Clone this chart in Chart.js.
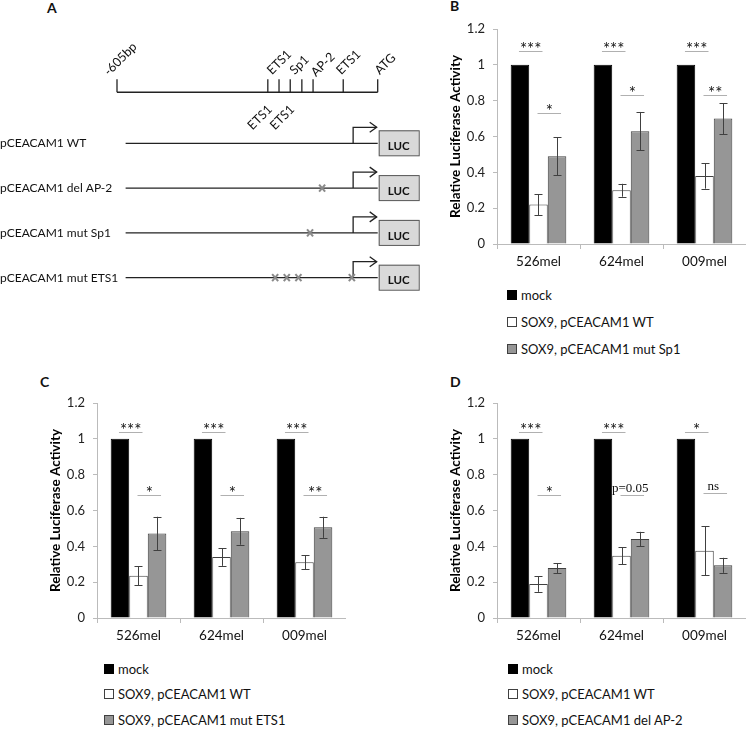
<!DOCTYPE html>
<html>
<head>
<meta charset="utf-8">
<script src="https://cdn.jsdelivr.net/npm/chart.js@4/dist/chart.umd.min.js"></script>
<style>
  body { margin: 0; width: 746px; height: 730px; position: relative; background: #fff; font-family: Lato, sans-serif; overflow: hidden; }
  canvas { position: absolute; }
  .lab { position: absolute; font-weight: bold; font-size: 14px; color: #111; line-height: 16px; }
  .legend { position: absolute; font-size: 13px; color: #111; }
  .legend .item { display: flex; align-items: center; }
  .legend .box { width: 10px; height: 10px; box-sizing: border-box; margin-right: 4px; }
</style>
</head>
<body>
<div class="lab" style="left:47px;top:0px">A</div>
<div class="lab" style="left:450px;top:-2px">B</div>
<div class="lab" style="left:40px;top:374px">C</div>
<div class="lab" style="left:450px;top:374px">D</div>

<canvas id="promoter" width="420" height="330" style="left:0;top:0"></canvas>
<canvas id="chartB" width="326" height="280" style="left:420px;top:0"></canvas>
<canvas id="chartC" width="326" height="280" style="left:20px;top:374px"></canvas>
<canvas id="chartD" width="326" height="280" style="left:420px;top:374px"></canvas>

<div class="legend" id="legendB" style="left:507px;top:281px"></div>
<div class="legend" id="legendC" style="left:104px;top:656px"></div>
<div class="legend" id="legendD" style="left:508px;top:656px"></div>

<script>
// --- panel A: promoter constructs (bp relative to ATG)
const promoterStart = -605;
const promoterEnd = 0;
const siteNames = ['ETS1', 'ETS1', 'ETS1', 'Sp1', 'AP-2', 'ETS1'];
const sitePos = [-255, -229, -203, -176, -150, -80];
const siteSide = ['below', 'above', 'below', 'above', 'above', 'above'];
const constructs = ['pCEACAM1 WT', 'pCEACAM1 del AP-2', 'pCEACAM1 mut Sp1', 'pCEACAM1 mut ETS1'];
const mutations = [[], [-129], [-157], [-238, -211, -184, -60]];
const constructStart = -585;
const tssPos = -57;

// --- panels B, C, D: luciferase assays
const cellLines = ['526mel', '624mel', '009mel'];
const mock = [1, 1, 1];

const wtB = [0.22, 0.30, 0.38];
const wtErrB = [0.058, 0.036, 0.071];
const sp1B = [0.49, 0.63, 0.70];
const sp1ErrB = [0.107, 0.107, 0.086];

const wtC = [0.236, 0.34, 0.311];
const wtErrC = [0.053, 0.049, 0.038];
const ets1C = [0.471, 0.484, 0.506];
const ets1ErrC = [0.094, 0.075, 0.059];

const wtD = [0.19, 0.348, 0.376];
const wtErrD = [0.044, 0.047, 0.137];
const ap2D = [0.279, 0.441, 0.294];
const ap2ErrD = [0.028, 0.04, 0.042];

// significance brackets: group, from dataset, to dataset, height, text
const sigB = [
    { g: 0, a: 0, b: 1, y: 1.075, t: '***' }, { g: 0, a: 1, b: 2, y: 0.73, t: '*' },
    { g: 1, a: 0, b: 1, y: 1.075, t: '***' }, { g: 1, a: 1, b: 2, y: 0.829, t: '*' },
    { g: 2, a: 0, b: 1, y: 1.075, t: '***' }, { g: 2, a: 1, b: 2, y: 0.829, t: '**' }
];
const sigC = [
    { g: 0, a: 0, b: 1, y: 1.036, t: '***' }, { g: 0, a: 1, b: 2, y: 0.688, t: '*' },
    { g: 1, a: 0, b: 1, y: 1.036, t: '***' }, { g: 1, a: 1, b: 2, y: 0.688, t: '*' },
    { g: 2, a: 0, b: 1, y: 1.036, t: '***' }, { g: 2, a: 1, b: 2, y: 0.688, t: '**' }
];
const sigD = [
    { g: 0, a: 0, b: 1, y: 1.036, t: '***' }, { g: 0, a: 1, b: 2, y: 0.688, t: '*' },
    { g: 1, a: 0, b: 1, y: 1.036, t: '***' }, { g: 1, a: 1, b: 2, y: 0.688, t: 'p=0.05', serif: true },
    { g: 2, a: 0, b: 1, y: 1.036, t: '*' }, { g: 2, a: 1, b: 2, y: 0.698, t: 'ns', serif: true }
];

Chart.defaults.font.family = 'Lato';
Chart.defaults.color = '#222';

// draws the schematic using the chart's x (bp) and y (row) scales
const promoterPlugin = {
    id: 'promoter',
    afterDraw(chart) {
        const { ctx, scales: { x, y } } = chart;
        // small horizontal nudges for the slanted site labels
        const nudge = [1, -7, 1, -7, 3, -2];
        ctx.save();
        ctx.strokeStyle = '#222';
        ctx.fillStyle = '#111';
        ctx.lineWidth = 1.3;
        const ly = y.getPixelForValue(-0.14);
        const top = ly - 13;
        const xs = x.getPixelForValue(promoterStart);
        const xe = x.getPixelForValue(promoterEnd);
        const seg = (a, b, c, d) => { ctx.beginPath(); ctx.moveTo(a, b); ctx.lineTo(c, d); ctx.stroke(); };
        const rot = (text, px, py, align) => {
            ctx.save();
            ctx.translate(px, py);
            ctx.rotate(-Math.PI / 4);
            ctx.textAlign = align;
            ctx.textBaseline = 'alphabetic';
            ctx.fillText(text, 0, 0);
            ctx.restore();
        };
        ctx.font = '12.5px Lato';
        seg(xs, ly, xe, ly);
        seg(xs, top, xs, ly);
        seg(xe, top, xe, ly);
        rot('-605bp', xs - 8, top - 3, 'left');
        rot('ATG', xe + 2, top - 4, 'left');
        sitePos.forEach((p, i) => {
            const px = x.getPixelForValue(p);
            seg(px, top, px, ly);
            if (siteSide[i] === 'above') rot(siteNames[i], px + nudge[i], top - (i === 4 ? 2 : 4), 'left');
            else rot(siteNames[i], px + 5, ly + 18, 'right');
        });

        constructs.forEach((name, i) => {
            const ry = y.getPixelForValue(i + 1);
            ctx.fillStyle = '#111';
            ctx.font = '12px Lato';
            ctx.textAlign = 'left';
            ctx.textBaseline = 'middle';
            ctx.fillText(name, 0, ry);
            ctx.lineWidth = 1.3;
            ctx.strokeStyle = '#222';
            seg(x.getPixelForValue(constructStart), ry, xe, ry);
            // transcription start arrow
            const tx = x.getPixelForValue(tssPos);
            ctx.beginPath();
            ctx.moveTo(tx, ry);
            ctx.lineTo(tx, ry - 16);
            ctx.lineTo(xe - 1, ry - 16);
            ctx.stroke();
            ctx.beginPath();
            ctx.moveTo(xe - 8, ry - 21);
            ctx.lineTo(xe - 1, ry - 16);
            ctx.lineTo(xe - 8, ry - 11);
            ctx.stroke();
            // luciferase box
            ctx.fillStyle = '#d9d9d9';
            ctx.strokeStyle = '#555';
            ctx.lineWidth = 1;
            ctx.fillRect(xe + 1, ry - 13, 40, 25);
            ctx.strokeRect(xe + 1.5, ry - 12.5, 40, 25);
            ctx.fillStyle = '#111';
            ctx.font = 'bold 11.5px Lato';
            ctx.textAlign = 'center';
            ctx.fillText('LUC', xe + 21, ry + 3);
            // mutated sites
            ctx.strokeStyle = '#8a8a8a';
            ctx.lineWidth = 2;
            mutations[i].forEach(m => {
                const mx = x.getPixelForValue(m);
                seg(mx - 3, ry - 3.5, mx + 3, ry + 3.5);
                seg(mx - 3, ry + 3.5, mx + 3, ry - 3.5);
            });
        });
        ctx.restore();
    }
};

new Chart(document.getElementById('promoter'), {
    type: 'scatter',
    data: { datasets: [] },
    plugins: [promoterPlugin],
    options: {
        responsive: false,
        animation: false,
        devicePixelRatio: 1,
        layout: { padding: { left: 117, right: 42.3, top: 53.7, bottom: 7.5 } },
        plugins: { legend: { display: false }, tooltip: { enabled: false } },
        scales: {
            x: { type: 'linear', min: promoterStart, max: promoterEnd, display: false },
            y: { type: 'linear', min: -1, max: 5, reverse: true, display: false }
        }
    }
});

const errorBars = {
    id: 'errorBars',
    afterDatasetsDraw(chart) {
        const { ctx, scales: { y } } = chart;
        ctx.save();
        ctx.strokeStyle = '#404040';
        ctx.lineWidth = 1;
        chart.data.datasets.forEach((ds, i) => {
            if (!ds.errors) return;
            chart.getDatasetMeta(i).data.forEach((bar, j) => {
                const top = y.getPixelForValue(ds.data[j] + ds.errors[j]);
                const bot = y.getPixelForValue(ds.data[j] - ds.errors[j]);
                const bx = Math.round(bar.x) + 0.5;
                ctx.beginPath();
                ctx.moveTo(bx, top); ctx.lineTo(bx, bot);
                ctx.moveTo(bx - 4, Math.round(top) + 0.5); ctx.lineTo(bx + 4, Math.round(top) + 0.5);
                ctx.moveTo(bx - 4, Math.round(bot) + 0.5); ctx.lineTo(bx + 4, Math.round(bot) + 0.5);
                ctx.stroke();
            });
        });
        ctx.restore();
    }
};

function sigPlugin(items) {
    return {
        id: 'sig',
        afterDatasetsDraw(chart) {
            const { ctx, scales: { y } } = chart;
            ctx.save();
            items.forEach(s => {
                const xa = chart.getDatasetMeta(s.a).data[s.g].x - 1;
                const xb = chart.getDatasetMeta(s.b).data[s.g].x + 4;
                const py = Math.round(y.getPixelForValue(s.y)) + 0.5;
                ctx.strokeStyle = '#b0b0b0';
                ctx.lineWidth = 1;
                ctx.beginPath();
                ctx.moveTo(xa, py); ctx.lineTo(xb, py);
                ctx.stroke();
                ctx.fillStyle = '#111';
                ctx.textAlign = 'center';
                ctx.textBaseline = 'alphabetic';
                if (s.serif) {
                    ctx.font = '13px "Liberation Serif"';
                    ctx.fillText(s.t, (xa + xb) / 2 - 2, py - 4);
                } else {
                    ctx.font = '17px Lato';
                    ctx.fillText(s.t, (xa + xb) / 2, py + 3.5);
                }
            });
            ctx.restore();
        }
    };
}

function makeChart(id, wt, wtErr, mut, mutErr, mutLabel, sig) {
    return new Chart(document.getElementById(id), {
        type: 'bar',
        data: {
            labels: cellLines,
            datasets: [
                { label: 'mock', data: mock, backgroundColor: '#000', borderColor: '#000', borderWidth: 1 },
                { label: 'SOX9, pCEACAM1 WT', data: wt, errors: wtErr, backgroundColor: '#fff', borderColor: '#404040', borderWidth: 1 },
                { label: mutLabel, data: mut, errors: mutErr, backgroundColor: '#969696', borderColor: '#404040', borderWidth: 1 }
            ]
        },
        plugins: [errorBars, sigPlugin(sig)],
        options: {
            responsive: false,
            animation: false,
            devicePixelRatio: 1,
            layout: { padding: { top: 29, right: 0, bottom: 0, left: 0 } },
            datasets: { bar: { categoryPercentage: 0.67, barPercentage: 1 } },
            plugins: { legend: { display: false }, tooltip: { enabled: false } },
            scales: {
                x: {
                    grid: { drawOnChartArea: false, tickLength: 5, color: '#bbb' },
                    border: { color: '#bbb' },
                    ticks: { font: { size: 13.5 }, padding: 5, color: '#111' },
                    afterFit(scale) { scale.height = 36; }
                },
                y: {
                    min: 0,
                    max: 1.2,
                    ticks: { stepSize: 0.2, font: { size: 13 }, padding: 8, color: '#222',
                        callback: v => String(+v.toFixed(1)) },
                    grid: { drawOnChartArea: false, tickLength: 4, color: '#bbb' },
                    border: { color: '#bbb' },
                    title: { display: true, text: 'Relative Luciferase Activity', color: '#000',
                        font: { size: 13.5, weight: 'bold' }, padding: { top: 27.5, bottom: 0 } },
                    afterFit(scale) { scale.width = 77; }
                }
            }
        }
    });
}

function buildLegend(chart, id, rowHeight) {
    const el = document.getElementById(id);
    chart.data.datasets.forEach(ds => {
        const item = document.createElement('div');
        item.className = 'item';
        item.style.height = rowHeight + 'px';
        const box = document.createElement('span');
        box.className = 'box';
        box.style.background = ds.backgroundColor;
        box.style.border = '1px solid ' + ds.borderColor;
        item.appendChild(box);
        item.appendChild(document.createTextNode(ds.label));
        el.appendChild(item);
    });
}

const chartB = makeChart('chartB', wtB, wtErrB, sp1B, sp1ErrB, 'SOX9, pCEACAM1 mut Sp1', sigB);
const chartC = makeChart('chartC', wtC, wtErrC, ets1C, ets1ErrC, 'SOX9, pCEACAM1 mut ETS1', sigC);
const chartD = makeChart('chartD', wtD, wtErrD, ap2D, ap2ErrD, 'SOX9, pCEACAM1 del AP-2', sigD);
buildLegend(chartB, 'legendB', 27);
buildLegend(chartC, 'legendC', 25.5);
buildLegend(chartD, 'legendD', 25.5);
</script>
</body>
</html>
